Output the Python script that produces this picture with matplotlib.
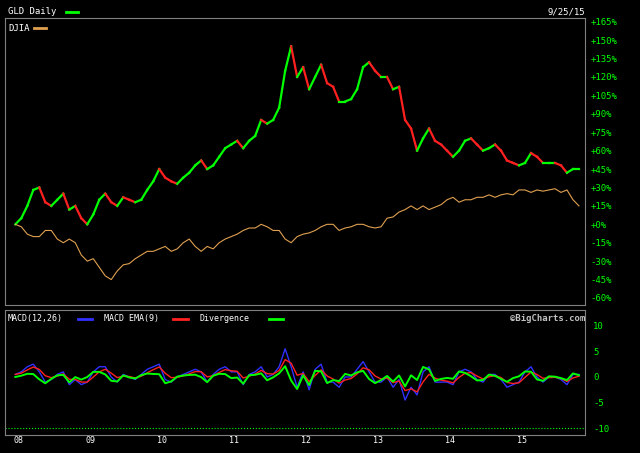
import matplotlib.pyplot as plt
import numpy as np
import pandas as pd

# monthly values, Nov 2007 .. Sep 2015, percent change since start
gld_pct = [0, 5,
           15, 28, 30, 18, 15, 20, 25, 12, 15, 5, 0, 8,
           20, 25, 18, 15, 22, 20, 18, 20, 28, 35, 45, 38,
           35, 33, 38, 42, 48, 52, 45, 48, 55, 62, 65, 68,
           62, 68, 72, 85, 82, 85, 95, 125, 145, 120, 128, 110,
           120, 130, 115, 112, 100, 100, 102, 110, 128, 132, 125, 120,
           120, 110, 112, 85, 78, 60, 70, 78, 68, 65, 60, 55,
           60, 68, 70, 65, 60, 62, 65, 60, 52, 50, 48, 50,
           58, 55, 50, 50, 50, 48, 42, 45, 45]
djia_pct = [0, -2,
            -8, -10, -10, -5, -5, -12, -15, -12, -15, -25, -30, -28,
            -35, -42, -45, -38, -33, -32, -28, -25, -22, -22, -20, -18,
            -22, -20, -15, -12, -18, -22, -18, -20, -15, -12, -10, -8,
            -5, -3, -3, 0, -2, -5, -5, -12, -15, -10, -8, -7,
            -5, -2, 0, 0, -5, -3, -2, 0, 0, -2, -3, -2,
            5, 6, 10, 12, 15, 12, 15, 12, 14, 16, 20, 22,
            18, 20, 20, 22, 22, 24, 22, 24, 25, 24, 28, 28,
            26, 28, 27, 28, 29, 26, 28, 20, 15]
macd = [0.5, 1,
        2, 2.5, 1, -1, -0.5, 0.5, 1, -1.5, -0.5, -1.5, -1, 1,
        2, 2, 0, -1, 0.5, 0, -0.5, 0.5, 1.5, 2, 2.5, -0.5,
        -1, 0, 0.5, 1, 1.5, 1, -1, 0.5, 1.5, 2, 1, 1,
        -1.5, 0.5, 1, 2, 0, 0.5, 2, 5.5, 2, -2, 1, -2.5,
        1.5, 2.5, -1, -1, -2, 0, 0, 1.5, 3, 1, -1, -1,
        0, -2, -0.5, -4.5, -2, -3.5, 1, 2, -1, -1, -1, -1.5,
        1, 1.5, 1, -0.5, -1, 0.5, 0.5, -0.5, -2, -1.5, -1, 1,
        2, 0, -1, 0, 0, -0.5, -1.5, 0.5, 0.5]
year_labels = ["08", "09", "10", "11", "12", "13", "14", "15"]
pct_ticks = list(range(-60, 166, 15))
macd_ticks = [-10, -5, 0, 5, 10]

GREEN = "#00ff00"
RED = "#ff2020"
ORANGE = "#e0a050"
FONT = "DejaVu Sans Mono"

x = np.arange(len(gld_pct))
signal = pd.Series(macd).ewm(span=3, adjust=False).mean().to_numpy()
diverg = np.array(macd) - signal

fig = plt.figure(figsize=(6.4, 4.53), dpi=100, facecolor="black")
ax = fig.add_axes([0.008, 0.327, 0.906, 0.634], facecolor="black")
ax2 = fig.add_axes([0.008, 0.04, 0.906, 0.276], facecolor="black")

for i in range(len(x) - 1):
    col = GREEN if gld_pct[i + 1] >= gld_pct[i] else RED
    ax.plot(x[i:i + 2], gld_pct[i:i + 2], color=col, lw=1.6)
ax.plot(x, djia_pct, color=ORANGE, lw=0.8)

ax.set_xlim(-1.7, 95)
ax.set_ylim(-65.6, 168.3)
ax.yaxis.tick_right()
ax.set_yticks(pct_ticks)
ax.set_yticklabels([f"{t:+d}%" if t else "+0%" for t in pct_ticks],
                   color=GREEN, fontsize=6.5, family=FONT)
ax.set_xticks([])
ax.tick_params(axis="y", length=0, pad=4)
for s in ax.spines.values():
    s.set_color("#808080")

ax.text(0.005, 1.005, "GLD Daily", transform=ax.transAxes, color="white",
        fontsize=6.5, family=FONT, va="bottom")
ax.plot([0.105, 0.125], [1.018, 1.018], transform=ax.transAxes, color=GREEN,
        lw=2, clip_on=False)
ax.text(1.0, 1.005, "9/25/15", transform=ax.transAxes, color="white",
        fontsize=6.5, family=FONT, va="bottom", ha="right")
ax.text(0.005, 0.955, "DJIA", transform=ax.transAxes, color="white",
        fontsize=6.5, family=FONT)
ax.plot([0.05, 0.07], [0.965, 0.965], transform=ax.transAxes, color=ORANGE, lw=2)

ax2.plot(x, macd, color="#3030ff", lw=1.0)
ax2.plot(x, signal, color=RED, lw=1.0)
ax2.plot(x, diverg, color=GREEN, lw=1.4)
ax2.axhline(-10, color=GREEN, lw=0.8, ls=":")
ax2.set_xlim(-1.7, 95)
ax2.set_ylim(-11.3, 13.1)
ax2.yaxis.tick_right()
ax2.set_yticks(macd_ticks)
ax2.set_yticklabels([str(t) for t in macd_ticks], color=GREEN, fontsize=6.5,
                    family=FONT)
ax2.set_xticks([0.5 + 12 * k for k in range(len(year_labels))])
ax2.set_xticklabels(year_labels, color="white", fontsize=6, family=FONT)
ax2.tick_params(axis="x", length=0, pad=1)
ax2.tick_params(axis="y", length=0, pad=6)
for s in ax2.spines.values():
    s.set_color("#808080")

labels = [("MACD(12,26)", "#3030ff"), ("MACD EMA(9)", RED), ("Divergence", GREEN)]
xpos = 0.005
for name, col in labels:
    ax2.text(xpos, 0.97, name, transform=ax2.transAxes, color="white",
             fontsize=6, family=FONT, va="top")
    ax2.plot([xpos + 0.12, xpos + 0.145], [0.93, 0.93], transform=ax2.transAxes,
             color=col, lw=2)
    xpos += 0.165
ax2.text(1.0, 0.97, "©BigCharts.com", transform=ax2.transAxes, color="#c0c0c0",
         fontsize=6.5, family=FONT, va="top", ha="right", weight="bold")

fig.savefig("out.png", dpi=100, facecolor="black")
